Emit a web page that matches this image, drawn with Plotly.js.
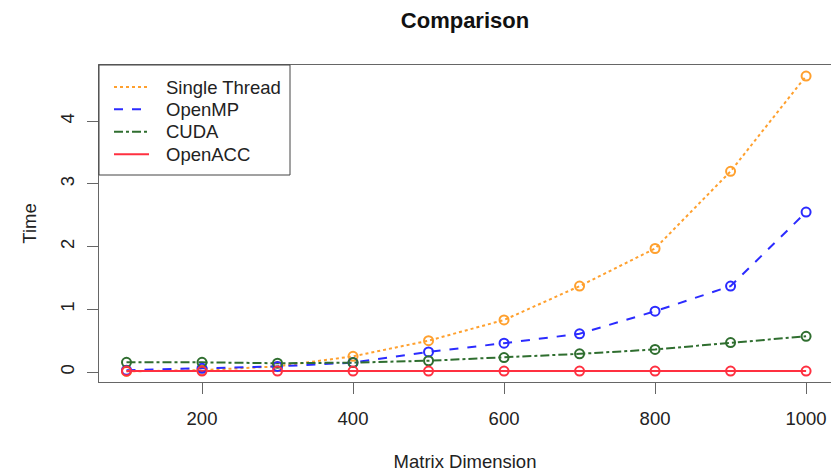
<!DOCTYPE html>
<html>
<head>
<meta charset="utf-8">
<script src="https://cdn.plot.ly/plotly-3.0.1.min.js"></script>
<style>html,body{margin:0;padding:0;overflow:hidden;background:#fff}#chart{width:831px;height:472px}</style>
</head>
<body>
<div id="chart"></div>
<script>
var matrixDim = [100, 200, 300, 400, 500, 600, 700, 800, 900, 1000];
var singleThread = [0.01, 0.03, 0.09, 0.25, 0.50, 0.83, 1.37, 1.97, 3.20, 4.72];
var openMP = [0.03, 0.06, 0.09, 0.15, 0.32, 0.46, 0.61, 0.97, 1.37, 2.55];
var cuda = [0.155, 0.155, 0.14, 0.15, 0.18, 0.23, 0.29, 0.36, 0.47, 0.57];
var openACC = [0.015, 0.015, 0.015, 0.015, 0.015, 0.015, 0.015, 0.015, 0.015, 0.015];
var seriesNames = ["Single Thread", "OpenMP", "CUDA", "OpenACC"];
var xTicks = [200, 400, 600, 800, 1000];
var yTicks = [0, 1, 2, 3, 4];

var colors = ["#FFA02E", "#2B2BFF", "#2F6E2F", "#FF3040"];
var dashes = ["dot", "dash", "dashdot", "solid"];
var allY = [singleThread, openMP, cuda, openACC];

var traces = [];
for (var i = 0; i < 4; i++) {
  traces.push({
    x: matrixDim, y: allY[i], name: seriesNames[i], type: "scatter", mode: "lines",
    line: {color: colors[i], width: 2, dash: dashes[i]}, showlegend: false
  });
}
for (var j = 0; j < 4; j++) {
  traces.push({
    x: matrixDim, y: allY[j], name: seriesNames[j], type: "scatter", mode: "markers",
    marker: {symbol: "circle-open", size: 9, color: colors[j], line: {color: colors[j], width: 2}},
    showlegend: false, hoverinfo: "skip"
  });
}

var font = "Liberation Sans, Arial, Helvetica, sans-serif";
var PL = 99, PW = 732, PB = 382, PH = 317;
function px2x(p) { return (p - PL) / PW; }
function px2y(p) { return (PB - p) / PH; }

// legend drawn as a boxed key in the top-left corner
var legendRows = [87, 109.3, 131.7, 154.3];
var shapes = [{
  type: "rect", xref: "paper", yref: "paper",
  x0: 0, x1: px2x(290), y0: px2y(175), y1: 1,
  line: {color: "#444", width: 1}, fillcolor: "rgba(0,0,0,0)"
}];
var annotations = [];
for (var k = 0; k < 4; k++) {
  shapes.push({
    type: "line", xref: "paper", yref: "paper",
    x0: px2x(114), x1: px2x(149), y0: px2y(legendRows[k]), y1: px2y(legendRows[k]),
    line: {color: colors[k], width: 2, dash: dashes[k]}
  });
  annotations.push({
    text: seriesNames[k], xref: "paper", yref: "paper",
    x: px2x(164), y: px2y(legendRows[k]), xanchor: "left", yanchor: "middle",
    showarrow: false, font: {family: font, size: 18.5, color: "#222"}
  });
}

var layout = {
  width: 831, height: 472,
  margin: {l: PL, r: 0, t: 65, b: 90, pad: 0},
  paper_bgcolor: "#fff", plot_bgcolor: "#fff",
  font: {family: font, size: 18.5, color: "#222"},
  title: {text: "<b>Comparison</b>", font: {family: font, size: 22, color: "#111"},
          x: 0.5, xref: "paper", y: 1 - 20 / 472, yref: "container", yanchor: "middle"},
  xaxis: {
    range: [63.6, 1033], tickvals: xTicks, ticktext: xTicks.map(String),
    ticks: "outside", ticklen: 11, tickcolor: "#666", tickwidth: 1,
    showline: true, linecolor: "#666", linewidth: 1, mirror: true,
    showgrid: false, zeroline: false,
    tickfont: {family: font, size: 18.5, color: "#222"},
    ticklabelstandoff: 9,
    title: {text: "Matrix Dimension", font: {family: font, size: 18.5, color: "#222"}, standoff: 27},
    automargin: false
  },
  yaxis: {
    range: [-0.159, 4.896], tickvals: yTicks, ticktext: yTicks.map(String), tickangle: -90,
    ticks: "outside", ticklen: 11, tickcolor: "#666", tickwidth: 1,
    showline: true, linecolor: "#666", linewidth: 1, mirror: true,
    showgrid: false, zeroline: false,
    tickfont: {family: font, size: 18.5, color: "#222"},
    ticklabelstandoff: 6,
    title: {text: "Time", font: {family: font, size: 18.5, color: "#222"}, standoff: 15},
    automargin: false
  },
  showlegend: false,
  shapes: shapes,
  annotations: annotations
};

Plotly.newPlot("chart", traces, layout, {displayModeBar: false, staticPlot: true});
</script>
</body>
</html>
